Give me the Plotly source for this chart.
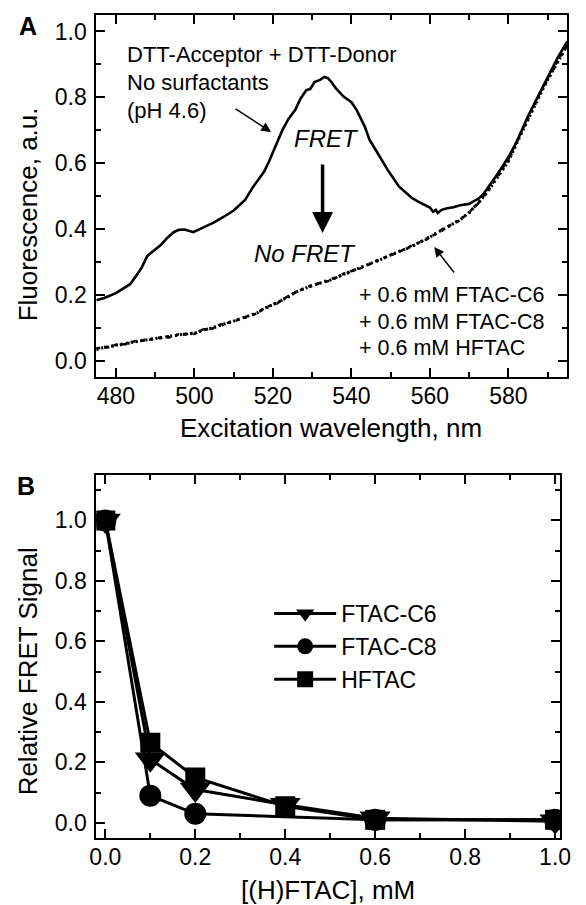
import plotly.graph_objects as go

# ---------------- Panel A data ----------------
wl_nosurf = [475, 477, 480, 482, 483.6, 485, 486.5, 488, 489.8, 491.5, 493, 494.7, 496, 497.5,
             499.7, 501, 503, 505, 507.5, 510, 512.9, 514.9, 516.5, 517.8, 519, 520.3, 522.4,
             524, 525.7, 527, 528.5, 529.5, 530.6, 532, 533.1, 534, 535, 536, 538, 540, 541.3,
             543.4, 544.6, 546.7, 549.2, 552.1, 555.4, 557, 558.7, 560, 560.8, 561.5, 562, 563,
             564.4, 566, 567.7, 570, 571, 572.5, 573.5, 575, 576.8, 578.5, 580.1, 582, 583.4,
             585, 586.7, 588.5, 590, 592.5, 595]
fl_nosurf = [0.183, 0.190, 0.205, 0.220, 0.232, 0.255, 0.281, 0.318, 0.336, 0.352, 0.372, 0.390,
             0.397, 0.398, 0.390, 0.397, 0.410, 0.420, 0.437, 0.456, 0.488, 0.527, 0.553, 0.575,
             0.605, 0.640, 0.700, 0.735, 0.762, 0.795, 0.822, 0.825, 0.846, 0.853, 0.862, 0.858,
             0.845, 0.828, 0.802, 0.785, 0.762, 0.711, 0.671, 0.630, 0.580, 0.529, 0.494, 0.483,
             0.472, 0.465, 0.452, 0.458, 0.448, 0.458, 0.463, 0.466, 0.472, 0.476, 0.483, 0.493,
             0.504, 0.528, 0.559, 0.590, 0.620, 0.662, 0.701, 0.742, 0.782, 0.825, 0.863, 0.919,
             0.970]

wl_surf = [475, 478, 480, 483, 485, 488, 490, 493.5, 496, 500, 502, 505, 506.7, 510, 513.7, 516,
           518, 521, 524, 526.5, 530, 534.7, 538, 543, 547, 551, 555, 559.5, 563.6, 567.7, 570.2,
           572, 573.5, 575, 577, 580, 583, 586, 589, 592, 595]
fl_c6 = [0.035, 0.042, 0.046, 0.052, 0.058, 0.063, 0.067, 0.072, 0.078, 0.083, 0.092, 0.100,
         0.108, 0.120, 0.134, 0.145, 0.160, 0.175, 0.195, 0.212, 0.228, 0.245, 0.262, 0.285,
         0.305, 0.326, 0.345, 0.372, 0.400, 0.428, 0.452, 0.475, 0.495, 0.518, 0.552, 0.605,
         0.682, 0.758, 0.830, 0.895, 0.958]
fl_c8 = [0.037, 0.040, 0.048, 0.050, 0.060, 0.061, 0.069, 0.070, 0.080, 0.081, 0.094, 0.098,
         0.110, 0.118, 0.136, 0.143, 0.162, 0.173, 0.197, 0.210, 0.230, 0.243, 0.264, 0.283,
         0.307, 0.324, 0.347, 0.370, 0.402, 0.426, 0.454, 0.473, 0.497, 0.522, 0.557, 0.612,
         0.690, 0.765, 0.836, 0.900, 0.962]
fl_hf = [0.033, 0.043, 0.045, 0.053, 0.057, 0.064, 0.066, 0.073, 0.077, 0.084, 0.091, 0.101,
         0.107, 0.121, 0.133, 0.146, 0.159, 0.176, 0.194, 0.213, 0.227, 0.246, 0.261, 0.286,
         0.304, 0.327, 0.344, 0.373, 0.399, 0.429, 0.451, 0.476, 0.494, 0.520, 0.554, 0.608,
         0.686, 0.762, 0.833, 0.897, 0.960]

# ---------------- Panel B data ----------------
conc_c6 = [0.0, 0.1, 0.2, 0.4, 0.6, 1.0]
fret_c6 = [1.0, 0.21, 0.11, 0.06, 0.015, 0.005]
conc_c8 = [0.0, 0.1, 0.2, 0.6, 1.0]
fret_c8 = [1.0, 0.09, 0.03, 0.01, 0.01]
conc_hf = [0.0, 0.1, 0.2, 0.4, 0.6, 1.0]
fret_hf = [1.0, 0.265, 0.15, 0.055, 0.01, 0.01]

xticks_a = [480, 500, 520, 540, 560, 580]
yticks_a = [0.0, 0.2, 0.4, 0.6, 0.8, 1.0]
xticks_b = [0.0, 0.2, 0.4, 0.6, 0.8, 1.0]
yticks_b = [0.0, 0.2, 0.4, 0.6, 0.8, 1.0]

W, H = 586, 905
FONT = "Liberation Sans, Arial, sans-serif"


def PX(x):
    return x / W


def PY(y):
    return 1 - y / H


fig = go.Figure()

# Panel A traces
fig.add_trace(go.Scatter(x=wl_nosurf, y=fl_nosurf, mode="lines", line=dict(color="black", width=2.6),
                         xaxis="x", yaxis="y", showlegend=False, name="No surfactants"))
fig.add_trace(go.Scatter(x=wl_surf, y=fl_c6, mode="lines",
                         line=dict(color="black", width=3, dash="2px,3px"),
                         xaxis="x", yaxis="y", showlegend=False, name="+ 0.6 mM FTAC-C6"))
fig.add_trace(go.Scatter(x=wl_surf, y=fl_c8, mode="lines",
                         line=dict(color="black", width=2.5, dash="4px,5px"),
                         xaxis="x", yaxis="y", showlegend=False, name="+ 0.6 mM FTAC-C8"))
fig.add_trace(go.Scatter(x=wl_surf, y=fl_hf, mode="lines",
                         line=dict(color="black", width=3, dash="2px,6px"),
                         xaxis="x", yaxis="y", showlegend=False, name="+ 0.6 mM HFTAC"))

# Panel B traces
fig.add_trace(go.Scatter(x=conc_c6, y=fret_c6, mode="lines+markers", name="FTAC-C6",
                         line=dict(color="black", width=3),
                         marker=dict(symbol="triangle-down", size=27, color="black"),
                         xaxis="x2", yaxis="y2"))
fig.add_trace(go.Scatter(x=conc_c8, y=fret_c8, mode="lines+markers", name="FTAC-C8",
                         line=dict(color="black", width=3),
                         marker=dict(symbol="circle", size=22, color="black"),
                         xaxis="x2", yaxis="y2"))
fig.add_trace(go.Scatter(x=conc_hf, y=fret_hf, mode="lines+markers", name="HFTAC",
                         line=dict(color="black", width=3),
                         marker=dict(symbol="square", size=20, color="black"),
                         xaxis="x2", yaxis="y2"))

axis_common = dict(showline=True, linecolor="black", linewidth=2, mirror="ticks",
                   ticks="inside", ticklen=9, tickwidth=2, tickcolor="black",
                   showgrid=False, zeroline=False,
                   tickfont=dict(family=FONT, size=23, color="black"))

fig.update_layout(
    width=W, height=H,
    margin=dict(l=0, r=0, t=0, b=0),
    paper_bgcolor="white", plot_bgcolor="white",
    font=dict(family=FONT, color="black"),
    xaxis=dict(domain=[PX(92), PX(577)], anchor="y", range=[475, 595],
               tickvals=xticks_a, ticktext=[str(v) for v in xticks_a], ticklabelstandoff=-3,
               minor=dict(ticks="inside", ticklen=5, tickwidth=2, tickcolor="black", dtick=10, tick0=470),
               **axis_common),
    yaxis=dict(domain=[PY(377), PY(15)], anchor="x", range=[-0.05, 1.05],
               tickvals=yticks_a, ticktext=[f"{v:.1f}" for v in yticks_a], ticklabelstandoff=3,
               minor=dict(ticks="inside", ticklen=5, tickwidth=2, tickcolor="black", dtick=0.1, tick0=0),
               **axis_common),
    xaxis2=dict(domain=[PX(92), PX(570)], anchor="y2", range=[-0.02, 1.012],
                tickvals=xticks_b, ticktext=[f"{v:.1f}" for v in xticks_b], ticklabelstandoff=-3,
                minor=dict(ticks="inside", ticklen=5, tickwidth=2, tickcolor="black", dtick=0.1, tick0=0),
                **axis_common),
    yaxis2=dict(domain=[PY(838), PY(475)], anchor="x2", range=[-0.05, 1.15],
                tickvals=yticks_b, ticktext=[f"{v:.1f}" for v in yticks_b], ticklabelstandoff=3,
                minor=dict(ticks="inside", ticklen=5, tickwidth=2, tickcolor="black", dtick=0.1, tick0=0),
                **axis_common),
    legend=dict(x=PX(270), y=PY(592), xanchor="left", yanchor="top",
                bgcolor="rgba(0,0,0,0)", borderwidth=0, itemsizing="trace", itemwidth=62,
                font=dict(family=FONT, size=23, color="black")),
)

ann = []


def text(x, y, s, size, xanchor="left", italic=False, bold=False, angle=0):
    if italic:
        s = f"<i>{s}</i>"
    if bold:
        s = f"<b>{s}</b>"
    ann.append(dict(x=PX(x), y=PY(y), xref="paper", yref="paper", text=s, showarrow=False,
                    xanchor=xanchor, yanchor="middle", textangle=angle,
                    font=dict(family=FONT, size=size, color="black")))


def arrow(hx, hy, tx, ty, width, size, head=2):
    ann.append(dict(x=PX(hx), y=PY(hy), xref="paper", yref="paper", text="", showarrow=True,
                    ax=tx - hx, ay=ty - hy, axref="pixel", ayref="pixel",
                    arrowhead=head, arrowwidth=width, arrowsize=size, arrowcolor="black",
                    standoff=0, startstandoff=0))


# Panel labels
text(22, 26, "A", 25, xanchor="center", bold=True)
text(20, 486, "B", 25, xanchor="center", bold=True)

# Axis titles
text(334, 428, "Excitation wavelength, nm", 26, xanchor="center")
text(22, 214, "Fluorescence, a.u.", 26, xanchor="center", angle=-90)
text(331, 890, "[(H)FTAC], mM", 26, xanchor="center")
text(22, 671, "Relative FRET Signal", 26, xanchor="center", angle=-90)

# Panel A annotations
text(122, 55, "DTT-Acceptor + DTT-Donor", 22)
text(122, 82, "No surfactants", 22)
text(122, 110, "(pH 4.6)", 22)
text(329, 138, "FRET", 24, xanchor="center", italic=True)
text(307, 253, "No FRET", 24, xanchor="center", italic=True)
text(360, 295, "+ 0.6 mM FTAC-C6", 21.5)
text(360, 322, "+ 0.6 mM FTAC-C8", 21.5)
text(360, 348, "+ 0.6 mM HFTAC", 21.5)

arrow(272, 132, 235, 108, 1.5, 1.3)
arrow(440, 247, 461, 274, 1.5, 1.3)
arrow(325, 233, 325, 163, 3.5, 1.2)

fig.update_layout(annotations=ann)

fig.write_html("out.html", config={"displayModeBar": False},
               post_script="document.body.style.margin='0';document.body.style.overflow='hidden';")
